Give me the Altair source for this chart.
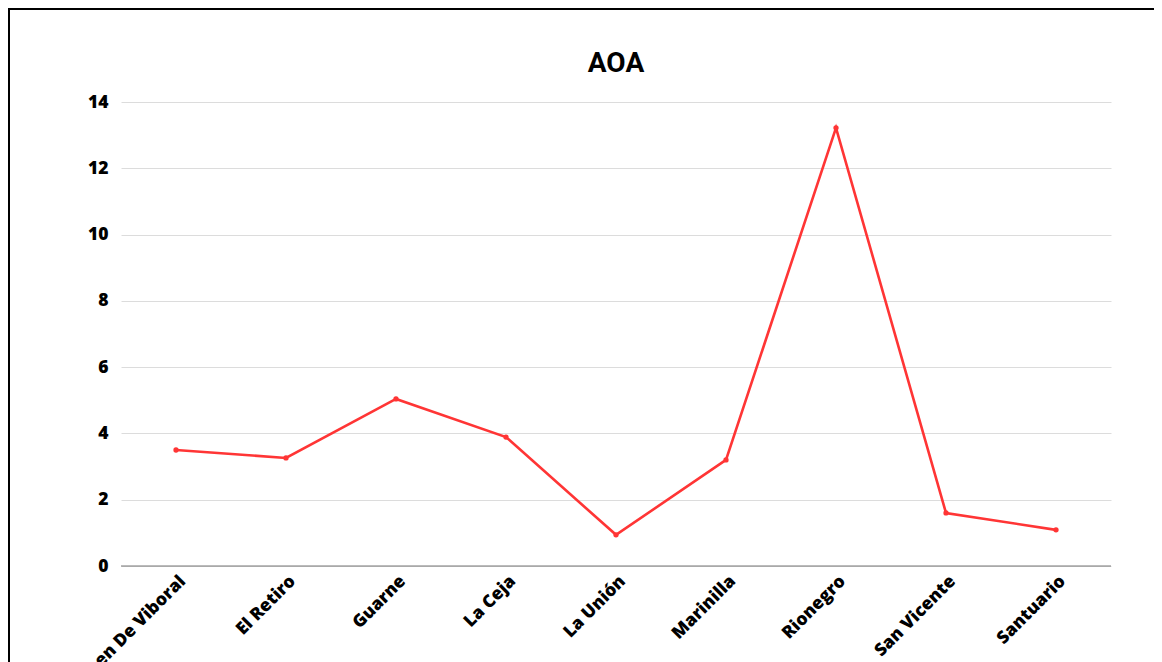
import altair as alt
import pandas as pd

municipios = ["Carmen De Viboral", "El Retiro", "Guarne", "La Ceja", "La Unión",
              "Marinilla", "Rionegro", "San Vicente", "Santuario"]
aoa = [3.50, 3.26, 5.04, 3.89, 0.94, 3.20, 13.22, 1.60, 1.09]
y_ticks = [0, 2, 4, 6, 8, 10, 12, 14]
title_text = ["AOA"]

df = pd.DataFrame({"Municipio": municipios, "AOA": aoa})

RED = "#ff3535"

x_enc = alt.X("Municipio:N", sort=None, title=None,
              scale=alt.Scale(paddingInner=1, paddingOuter=0.5),
              axis=alt.Axis(labelAngle=-45, labelFont="Open Sans", labelFontWeight=800,
                            labelFontSize=17.5, labelColor="#000", labelPadding=6,
                            ticks=False, domain=False, grid=False))
y_enc = alt.Y("AOA:Q", title=None,
              scale=alt.Scale(domain=[0, 14], nice=False),
              axis=alt.Axis(values=y_ticks, labelFont="Open Sans", labelFontWeight=800,
                            labelFontSize=17.5, labelColor="#000", labelPadding=13,
                            ticks=False, domain=False, gridColor="#dcdcdc", gridWidth=1))

base = alt.Chart(df)
line = base.mark_line(color=RED, strokeWidth=2.6).encode(x=x_enc, y=y_enc)
pts = base.mark_circle(color=RED, size=28, opacity=1).encode(x=x_enc, y=y_enc)
baseline = alt.Chart(pd.DataFrame({"v": [0]})).mark_rule(color="#777777", strokeWidth=1).encode(
    y=alt.Y("v:Q"), x=alt.value(0), x2=alt.value(990))
frame = alt.Chart(pd.DataFrame({"v": [0]})).mark_rect(
    filled=False, stroke="#000000", strokeWidth=2, clip=False).encode(
    x=alt.value(-112), x2=alt.value(1200), y=alt.value(-93), y2=alt.value(800))
title = alt.Chart(pd.DataFrame({"t": title_text})).mark_text(
    font="Roboto", fontSize=28, fontWeight="bold", color="#000",
    align="center", baseline="alphabetic").encode(
    text="t:N", x=alt.value(495), y=alt.value(-30))

chart = alt.layer(line, baseline, pts, frame, title).properties(
    width=990, height=464,
    background="white",
    autosize=alt.AutoSizeParams(type="none"),
    padding={"left": 113, "top": 94, "right": 43, "bottom": 96},
).configure_view(stroke=None)

chart.save("out.html", embed_options={"renderer": "svg", "actions": False})
